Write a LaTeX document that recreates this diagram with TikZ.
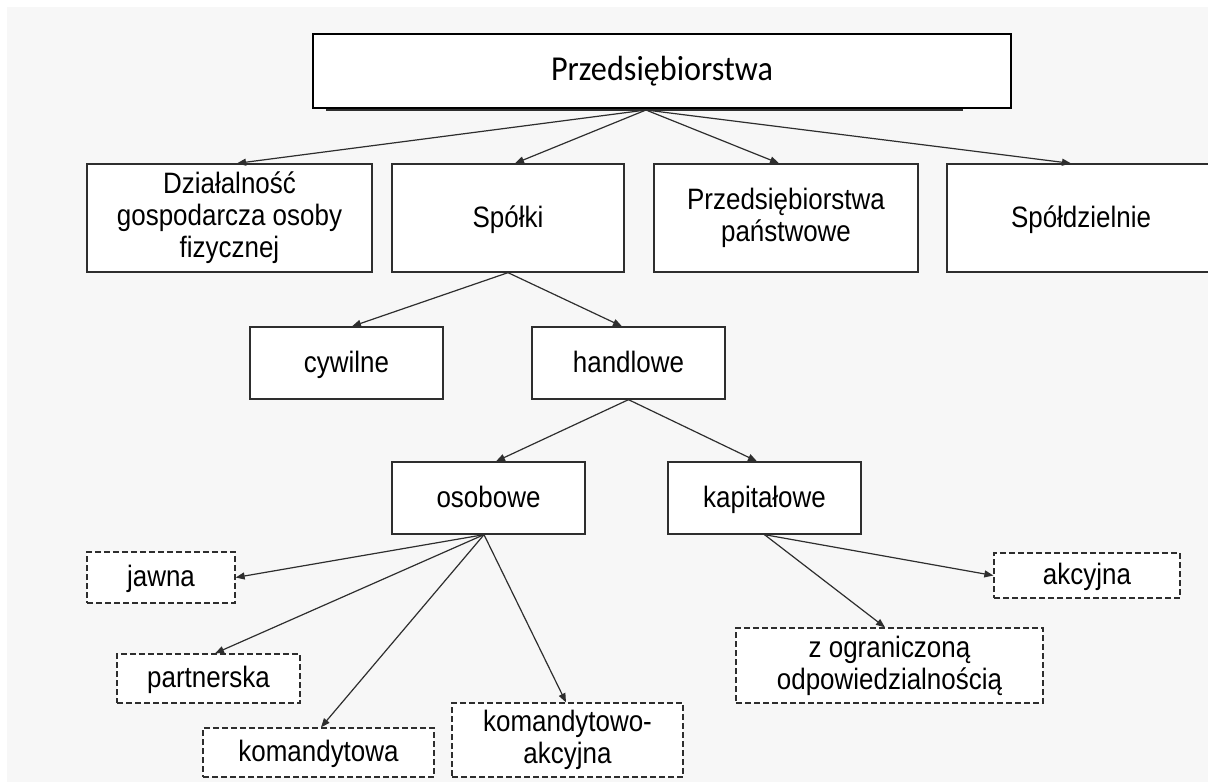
\documentclass[tikz,border=0pt]{standalone}
\usepackage{fontspec}
\setmainfont{Liberation Sans}[FakeStretch=0.88]
\newfontfamily\calib{Carlito}[FakeStretch=0.92]
\usepackage{xcolor}
\usepackage{tikz}
\usetikzlibrary{positioning,arrows.meta,calc}

\definecolor{bggray}{HTML}{F7F7F7}
\definecolor{edge}{HTML}{2E2E2E}

\begin{document}
\begin{tikzpicture}[x=1pt,y=-1pt,
    box/.style={draw=edge, fill=white, line width=1.3pt, inner sep=0pt,
        align=center, font=\fontsize{29.5}{32}\selectfont},
    oneline/.style={text height=24pt, text depth=6pt},
    subbox/.style={box, dash pattern=on 6pt off 3pt},
    arr/.style={-{Triangle[length=9pt,width=7pt]}, draw=edge, line width=1.2pt}]
    \useasboundingbox (0,0) rectangle (1208,782);
    % Background
    \fill[bggray] (7,7) rectangle (1215,790);

    % Top level
    \draw[line width=3pt, edge] (326,109.5) -- (963,109.5);
    \node[box, line width=2pt, draw=black, minimum width=698pt, minimum height=74pt,
          font=\calib\fontsize{35}{40}\selectfont] (top) at (662,71) {Przedsiębiorstwa};
    \coordinate (hub) at (646,110);

    % Forms of enterprise
    \node[box, minimum width=285pt, minimum height=108pt] (dzial) at (229.5,218)
        {Działalność\\gospodarcza osoby\\fizycznej};
    \node[box, oneline, minimum width=232pt, minimum height=108pt] (spolki) at (508,218) {Spółki};
    \node[box, minimum width=264pt, minimum height=108pt] (panst) at (786,218)
        {Przedsiębiorstwa\\państwowe};
    \node[box, oneline, minimum width=268pt, minimum height=108pt] (spoldz) at (1081,218) {Spółdzielnie};

    % Companies
    \node[box, oneline, minimum width=193pt, minimum height=72pt] (cyw) at (346.5,363) {cywilne};
    \node[box, oneline, minimum width=193pt, minimum height=72pt] (handl) at (628.5,363) {handlowe};
    \node[box, oneline, minimum width=193pt, minimum height=72pt] (osob) at (488.5,498) {osobowe};
    \node[box, oneline, minimum width=193pt, minimum height=72pt] (kapit) at (764.5,498) {kapitałowe};

    % Partnerships
    \node[subbox, oneline, minimum width=148pt, minimum height=51pt] (jawna) at (161,577.5) {jawna};
    \node[subbox, oneline, minimum width=183pt, minimum height=49pt] (partn) at (208.5,678.5) {partnerska};
    \node[subbox, oneline, minimum width=231pt, minimum height=49pt] (komand) at (318.5,752.5) {komandytowa};
    \node[subbox, minimum width=231pt, minimum height=74pt] (komakc) at (567.5,740)
        {komandytowo-\\akcyjna};

    % Capital companies
    \node[subbox, oneline, minimum width=186pt, minimum height=45pt] (akcyjna) at (1087,575.5) {akcyjna};
    \node[subbox, minimum width=307pt, minimum height=75pt] (zogr) at (889.5,665.5)
        {z ograniczoną\\odpowiedzialnością};

    % Arrows
    \foreach \t/\dx in {dzial/7.5, spolki/7, panst/-7, spoldz/-10}
        \draw[arr] (hub) -- ([xshift=\dx]\t.north);
    \draw[arr] (spolki.south) -- ([xshift=5.5]cyw.north);
    \draw[arr] (spolki.south) -- ([xshift=-6.5]handl.north);
    \draw[arr] (handl.south) -- ([xshift=7.5]osob.north);
    \draw[arr] (handl.south) -- ([xshift=-7.5]kapit.north);
    \coordinate (osobout) at ([xshift=-4.5]osob.south);
    \draw[arr] (osobout) -- (jawna.east);
    \foreach \t/\dx in {partn/6.5, komand/2.5, komakc/-1.5}
        \draw[arr] (osobout) -- ([xshift=\dx]\t.north);
    \draw[arr] (kapit.south) -- (akcyjna.west);
    \draw[arr] (kapit.south) -- ([xshift=-4.5]zogr.north);
\end{tikzpicture}
\end{document}
